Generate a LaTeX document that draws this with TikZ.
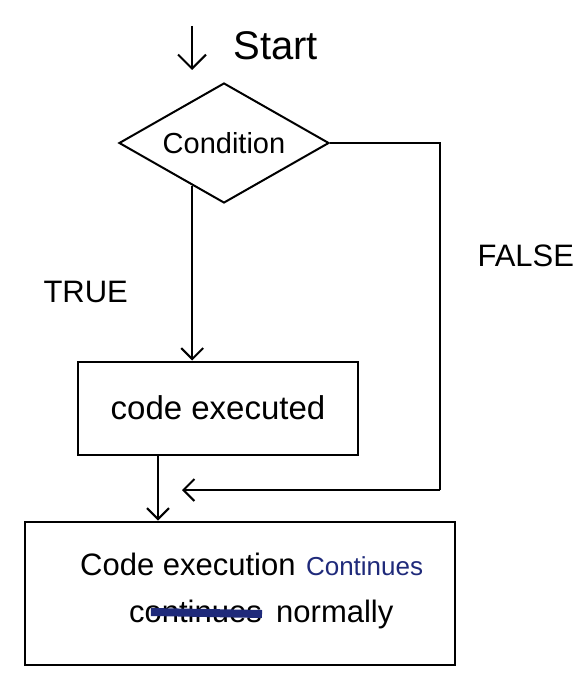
\documentclass[tikz,border=0pt]{standalone}
\usepackage{fontspec}
\setmainfont{Liberation Sans}
\usetikzlibrary{arrows.meta,shapes.geometric,calc}
\definecolor{inkblue}{HTML}{1F2A7A}
\begin{document}
\begin{tikzpicture}[x=1pt,y=-1pt,
  ink/.style={line width=2pt,black},
  flow/.style={ink,-{Straight Barb[length=11pt,width=22pt,line width=2pt]}},
  decision/.style={diamond,draw,ink,aspect=1.75,minimum width=210pt,minimum height=120pt,inner sep=0pt},
  procbox/.style={rectangle,draw,ink,inner sep=0pt},
  label/.style={font=\fontsize{31}{36}\selectfont},
  plain/.style={inner sep=0pt}
]
\useasboundingbox (0,0) rectangle (580,679);

% start marker
\coordinate (s0) at (192,26);
\coordinate (s1) at (192,70);
\draw[ink,-{Straight Barb[length=14pt,width=28pt,line width=2pt]}] (s0) -- (s1);
\node[font=\fontsize{40}{44}\selectfont,anchor=west] (start) at (230,46) {Start};

% decision
\node[decision,font=\fontsize{29}{34}\selectfont] (cond) at (224,143) {Condition};

% process box
\node[procbox,minimum width=280pt,minimum height=93pt,font=\fontsize{33}{38}\selectfont] (exec) at (218,408) {code executed};

% final box and its two lines of text
\node[procbox,minimum width=430pt,minimum height=143pt] (final) at (240,593) {};
\node[plain,label,anchor=base west] (l1a) at (80,575) {Code execution};
\node[plain,anchor=base west,text=inkblue,font=\fontsize{26}{28}\selectfont] (l1b) at ([xshift=10pt]l1a.base east) {Continues};
\node[plain,label,anchor=base east] (l2a) at (262,622) {continues};
\node[plain,label,anchor=base west] (l2b) at ([xshift=14pt]l2a.base east) {normally};
\draw[inkblue,line width=8pt] ([xshift=22pt,yshift=10pt]l2a.base west) -- ([yshift=8pt]l2a.base east);

% branch labels
\node[label,anchor=west] (true) at (40,292) {TRUE};
\node[label,anchor=west] (false) at (474,256) {FALSE};

% connectors
\coordinate (tstart) at ($(cond.south)!0.3!(cond.west)$);
\coordinate (join) at (158,490);
\coordinate (fcorner) at (440,490);
\coordinate (fend) at (182,490);

\draw[flow] (tstart) -- (tstart |- exec.north);
\draw[flow] (exec.south -| join) -- (final.north -| join);
\draw[ink] (cond.east) -| (fcorner);
\draw[flow] (fcorner) -- (fend);
\end{tikzpicture}
\end{document}
